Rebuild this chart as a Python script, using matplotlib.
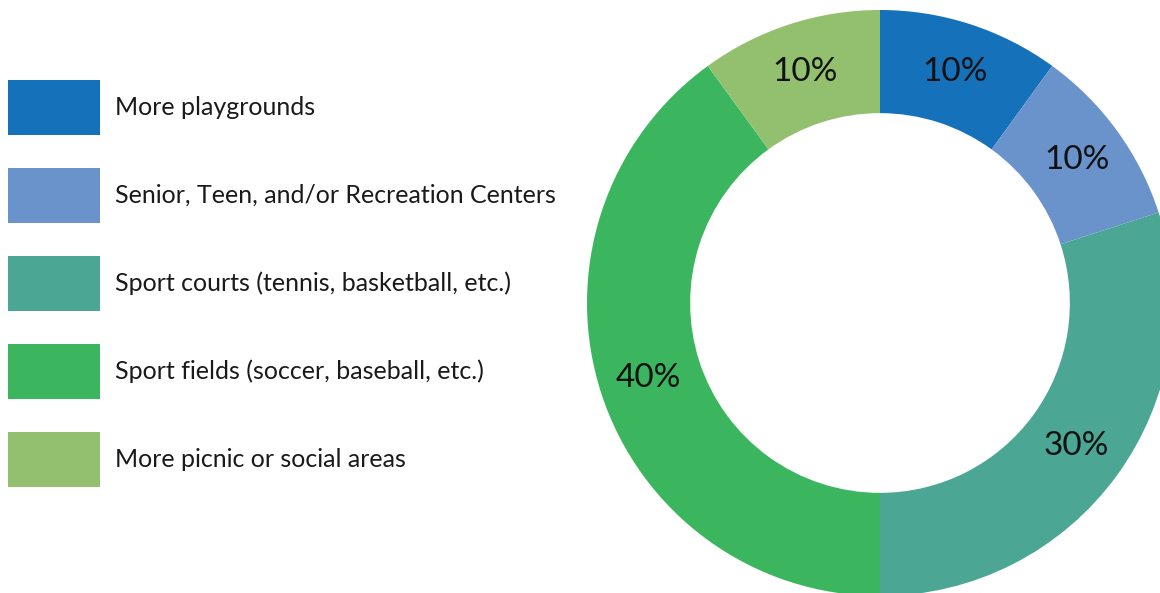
import matplotlib
matplotlib.use("Agg")
import matplotlib.pyplot as plt
from matplotlib.patches import Patch

categories = ["More playgrounds",
              "Senior, Teen, and/or Recreation Centers",
              "Sport courts (tennis, basketball, etc.)",
              "Sport fields (soccer, baseball, etc.)",
              "More picnic or social areas"]
values = [10, 10, 30, 40, 10]
colors = ["#1571B9", "#6A93CB", "#4BA694", "#3CB65E", "#93C06E"]

plt.rcParams['font.family'] = ['Lato', 'DejaVu Sans']

W, H = 1160, 593
fig = plt.figure(figsize=(W / 100, H / 100), dpi=100)
fig.patch.set_facecolor("white")

cx, cy, R = 880, 303, 293
ax = fig.add_axes([(cx - R) / W, (H - cy - R) / H, 2 * R / W, 2 * R / H])
wedges, texts, autotexts = ax.pie(
    values, colors=colors, startangle=90, counterclock=False,
    radius=1.0, autopct=lambda p: f"{p:.0f}%", pctdistance=0.83,
    wedgeprops=dict(width=0.352, linewidth=0),
    textprops=dict(fontsize=24, color="#111111"))
ax.set_xlim(-1, 1)
ax.set_ylim(-1, 1)
ax.set_aspect("equal")
ax.axis("off")

fs = 18
fpx = fs * 100 / 72
box_h = 55 / fpx
hh = (box_h - 0.245) / 0.65
handles = [Patch(facecolor=c, edgecolor="none", linewidth=0) for c in colors]
leg = fig.legend(handles, categories, loc="upper left",
                 bbox_to_anchor=(8 / W, 1 - 80 / H),
                 frameon=False, fontsize=fs, borderpad=0, borderaxespad=0,
                 handlelength=92 / fpx, handleheight=hh,
                 handletextpad=15 / fpx, labelspacing=33 / fpx)
for t in leg.get_texts():
    t.set_color("#1a1a1a")

fig.savefig("out.png", dpi=100)
